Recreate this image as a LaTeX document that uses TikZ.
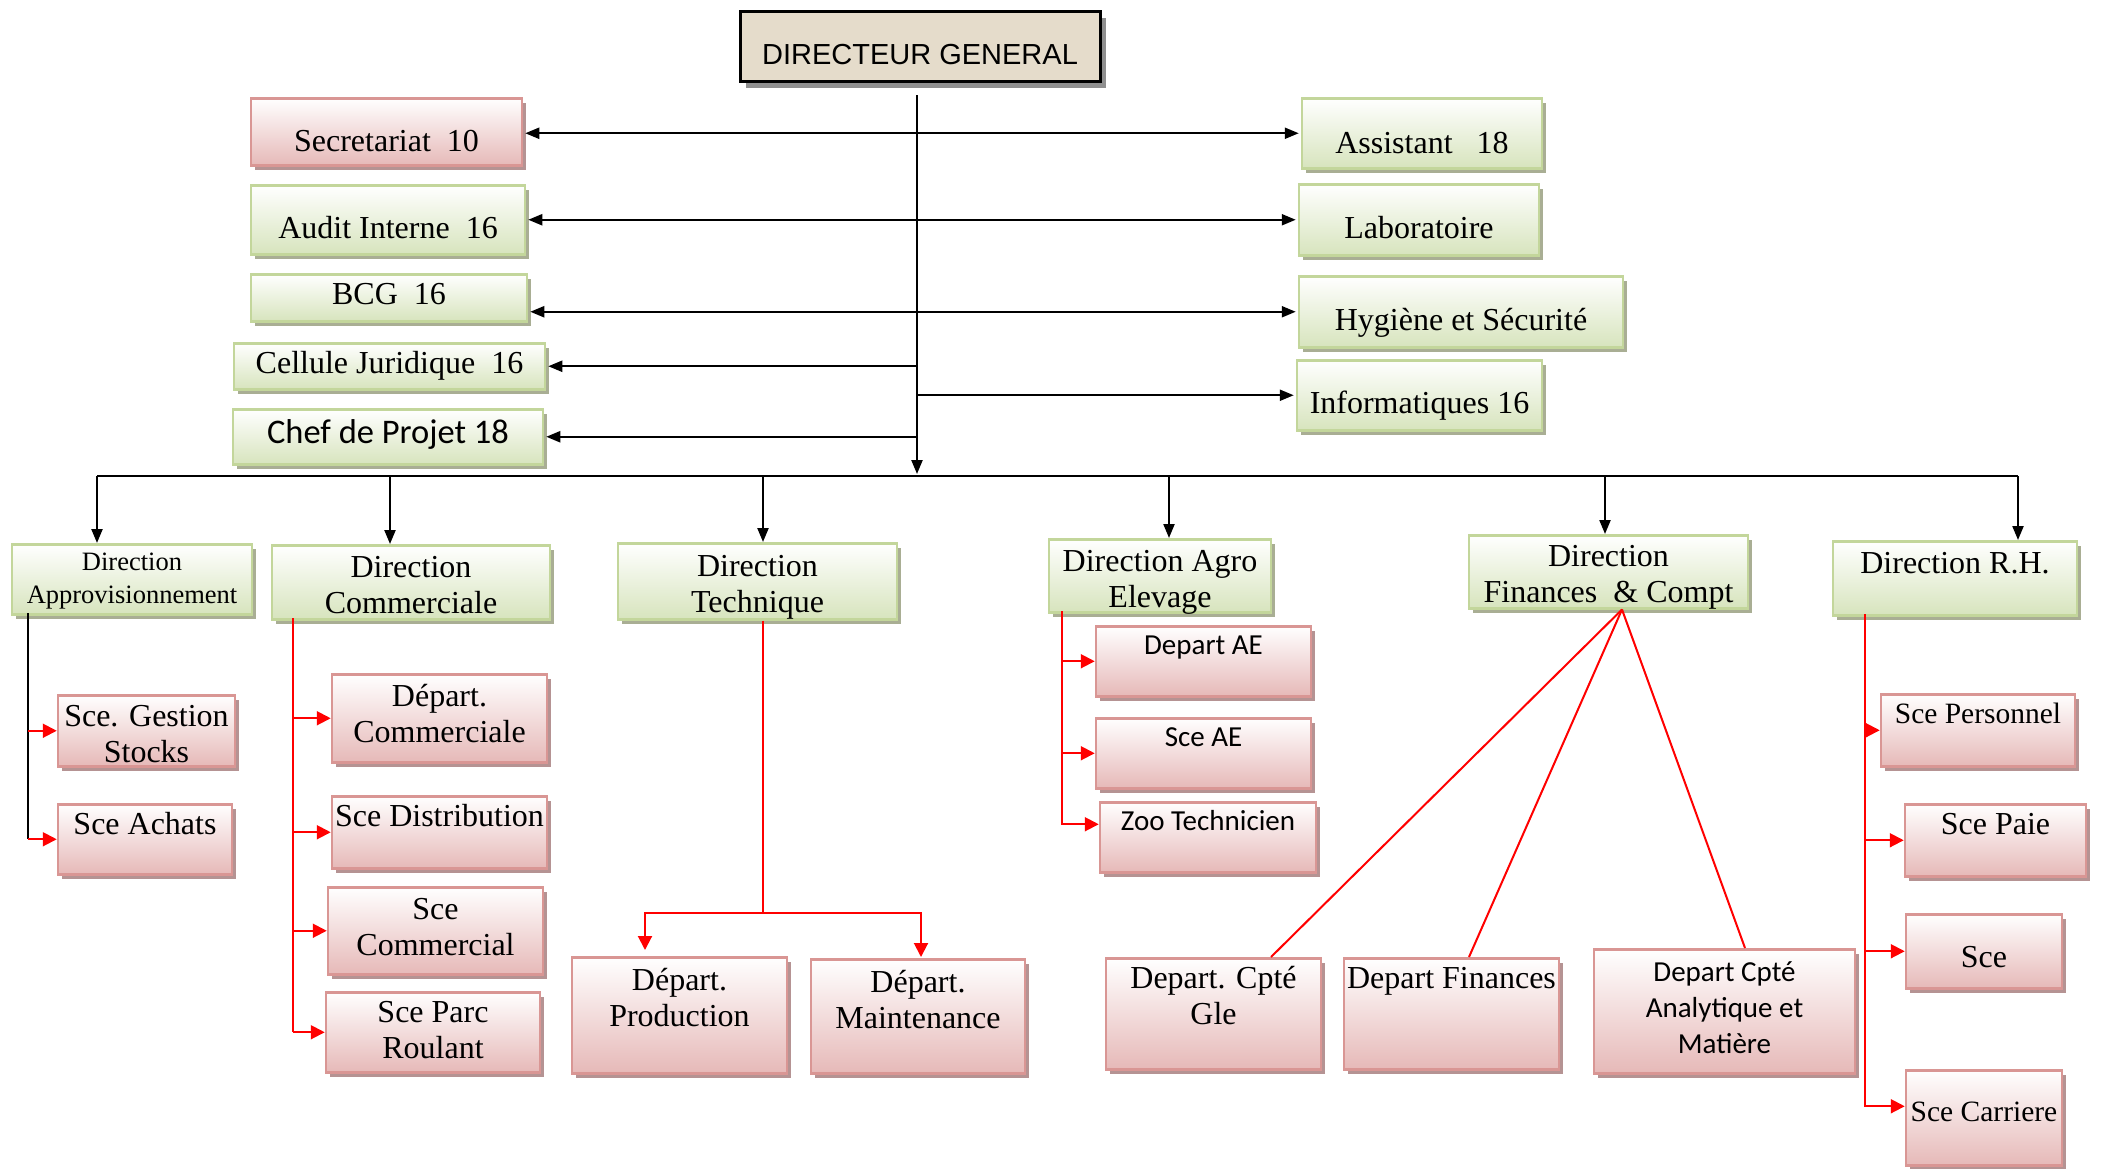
\documentclass[tikz,border=0pt]{standalone}
\usepackage{fontspec}
\setmainfont{Liberation Serif}
\newfontfamily\calib{Carlito}
\newfontfamily\arialf{Liberation Sans}
\usetikzlibrary{arrows.meta,shadows}

\definecolor{gBorder}{HTML}{C3D69B}
\definecolor{gBottom}{HTML}{D7E4BD}
\definecolor{gShadow}{HTML}{A9AE94}
\definecolor{pBorder}{HTML}{D99694}
\definecolor{pBottom}{HTML}{E6B9B8}
\definecolor{pShadow}{HTML}{B59393}
\definecolor{dgFill}{HTML}{E5DCCB}
\definecolor{dgShadow}{HTML}{8F8F8F}

\tikzset{
  box/.style={draw, line width=2.5pt, inner xsep=2pt, inner ysep=0pt, anchor=north,
    align=center, font=\fontsize{32}{36}\selectfont},
  dims/.style n args={3}{minimum width=#1pt, text height=#2pt, text depth=#3pt},
  gbox/.style={box, draw=gBorder, top color=white, bottom color=gBottom,
    drop shadow={shadow xshift=4pt, shadow yshift=-5pt, opacity=1, fill=gShadow}},
  pbox/.style={box, draw=pBorder, top color=white, bottom color=pBottom,
    drop shadow={shadow xshift=4pt, shadow yshift=-5pt, opacity=1, fill=pShadow}},
  dgbox/.style={box, draw=black, line width=3pt, fill=dgFill,
    font=\arialf\fontsize{29}{34}\selectfont,
    drop shadow={shadow xshift=6pt, shadow yshift=-6pt, opacity=1, fill=dgShadow}},
  calibbig/.style={font=\calib\fontsize{34.5}{38}\selectfont},
  calibsmall/.style={font=\calib\fontsize{29}{36}\selectfont},
  blk/.style={line width=2.2pt},
  blkarr/.style={blk, -{Triangle[length=14pt,width=11pt]}, shorten >=2pt},
  dblarr/.style={blk, {Triangle[length=14pt,width=11pt]}-{Triangle[length=14pt,width=11pt]},
    shorten >=2pt, shorten <=2pt},
  redln/.style={red, line width=2pt},
  redarr/.style={redln, -{Triangle[length=14pt,width=14pt]}}
}

\begin{document}
\begin{tikzpicture}[x=1pt,y=-1pt]
  \useasboundingbox (0,0) rectangle (2102,1168);

  % --- Direction generale and staff services ---
  \node[dgbox, dims={360}{53}{17}] (dg) at (920,10) {DIRECTEUR GENERAL};

  \node[pbox, dims={271}{53}{14}] (secr) at (386.5,97) {Secretariat~~10};
  \node[gbox, dims={274}{53}{16}] (audit) at (388,184) {Audit Interne~~16};
  \node[gbox, dims={276}{30}{17}] (bcg) at (389,273) {BCG~~16};
  \node[gbox, dims={311}{30}{16}] (cell) at (389.5,342) {Cellule Juridique~~16};
  \node[gbox, calibbig, dims={310}{34}{21}] (chef) at (388,408) {Chef de Projet 18};

  \node[gbox, dims={240}{55}{15}] (assist) at (1422,97) {Assistant~~~18};
  \node[gbox, dims={240}{54}{17}] (labo) at (1419,183) {Laboratoire};
  \node[gbox, dims={324}{54}{17}] (hyg) at (1461,275) {Hygiène et Sécurité};
  \node[gbox, dims={245}{53}{17}] (info) at (1419.5,359) {Informatiques 16};

  % --- trunk and staff arrows ---
  \coordinate (trTop) at (917,95);
  \coordinate (barL) at (97,476);
  \coordinate (barR) at (2018,476);
  \draw[blkarr] (trTop) -- (trTop |- barL);
  \draw[dblarr] (secr.east |- assist.west) -- (assist.west);
  \draw[dblarr] (audit.east |- labo.west) -- (labo.west);
  \draw[dblarr] (bcg.east |- hyg.west) -- (hyg.west);
  \draw[blkarr] (trTop |- cell.east) -- (cell.east);
  \draw[blkarr] (trTop |- info.west) -- (info.west);
  \draw[blkarr] (trTop |- chef.east) -- (chef.east);

  % --- directions ---
  \node[gbox, font=\fontsize{26.5}{33}\selectfont, dims={240}{59}{11}] (appro) at (132,543)
    {Direction\\Approvisionnement};
  \node[gbox, dims={278}{68}{6}] (comm) at (411,544) {Direction\\Commerciale};
  \node[gbox, dims={279}{69}{7}] (tech) at (757.5,542) {Direction\\Technique};
  \node[gbox, dims={222}{68}{5}] (agro) at (1160,538) {Direction Agro\\Elevage};
  \node[gbox, dims={279}{67}{6}] (fin) at (1608.5,534) {Direction\\Finances~~\& Compt};
  \node[gbox, dims={244}{32}{42}] (rh) at (1955,540) {Direction R.H.};

  \draw[blk, line width=2.6pt] (barL) -- (barR);
  \foreach \d/\s in {appro/-35, comm/-21, tech/5.5, agro/9, fin/-3.5, rh/63} {
    \draw[blkarr, shorten >=0pt] ([xshift=\s pt]\d.north |- barL) -- ([xshift=\s pt]\d.north);
  }

  % --- Approvisionnement ---
  \node[pbox, dims={177}{67}{4}] (stocks) at (146.5,694) {Sce. Gestion\\Stocks};
  \node[pbox, dims={174}{30}{40}] (achats) at (145,803) {Sce Achats};
  \coordinate (apS) at (28,613);
  \draw[blk, line width=1.8pt] (apS) -- (apS |- achats.west);
  \foreach \b in {stocks,achats} {
    \draw[redarr] (apS |- \b.west) -- (\b.west);
  }

  % --- Commerciale ---
  \node[pbox, dims={215}{68}{20}] (depCom) at (439.5,673) {Départ.\\Commerciale};
  \node[pbox, dims={215}{30}{42}] (dist) at (439.5,795) {Sce Distribution};
  \node[pbox, dims={215}{68}{19}] (sceCom) at (435.5,886) {Sce\\Commercial};
  \node[pbox, dims={214}{66}{14}] (parc) at (433,991) {Sce Parc\\Roulant};
  \coordinate (cmS) at (293,618);
  \draw[redln] (cmS) -- (cmS |- parc.west);
  \foreach \b in {depCom,dist,sceCom,parc} {
    \draw[redarr] (cmS |- \b.west) -- (\b.west);
  }

  % --- Technique ---
  \node[pbox, dims={215}{69}{47}] (prod) at (679.5,956) {Départ.\\Production};
  \node[pbox, dims={214}{69}{45}] (maint) at (918,958) {Départ.\\Maintenance};
  \coordinate (tj) at (763,913);
  \draw[redln] (tj |- tech.south) -- (tj);
  \draw[redarr, shorten >=6pt] (tj) -| ([xshift=-34.5pt]prod.north);
  \draw[redarr, shorten >=1pt] (tj) -| ([xshift=3pt]maint.north);

  % --- Agro Elevage ---
  \node[pbox, calibsmall, dims={215}{28}{42}] (depAE) at (1203.5,625) {Depart AE};
  \node[pbox, calibsmall, dims={215}{28}{42}] (sceAE) at (1203.5,717) {Sce AE};
  \node[pbox, calibsmall, dims={216}{28}{42}] (zoo) at (1208,801) {Zoo Technicien};
  \coordinate (agS) at (1062,611);
  \draw[redarr] (agS) |- ([yshift=13pt]zoo.west);
  \foreach \b in {depAE,sceAE} {
    \draw[redarr] (agS |- \b.west) -- (\b.west);
  }

  % --- Finances et Comptabilite ---
  \node[pbox, dims={215}{66}{45}] (gle) at (1213.5,957) {Depart. Cpté\\Gle};
  \node[pbox, dims={215}{30}{81}] (dfin) at (1451.5,957) {Depart Finances};
  \node[pbox, calibsmall, dims={261}{104}{20}] (anal) at (1724.5,948)
    {Depart Cpté\\Analytique et\\Matière};
  \coordinate (fnP) at ([xshift=13.5pt]fin.south);
  \draw[redln] (fnP) -- ([xshift=57.5pt]gle.north);
  \draw[redln] (fnP) -- ([xshift=17.5pt]dfin.north);
  \draw[redln] (fnP) -- ([xshift=20.5pt]anal.north);

  % --- Ressources humaines ---
  \node[pbox, font=\fontsize{29.5}{36}\selectfont, dims={194}{29}{43}] (pers) at (1978,693) {Sce Personnel};
  \node[pbox, dims={181}{30}{42}] (paie) at (1995.5,803) {Sce Paie};
  \node[pbox, dims={156}{53}{21}] (sce) at (1984,913) {Sce};
  \node[pbox, font=\fontsize{29.5}{36}\selectfont, dims={156}{51}{44}] (carr) at (1984,1069) {Sce Carriere};
  \coordinate (rhS) at (1865,614);
  \draw[redarr] (rhS) |- ([yshift=11.5pt]carr.west);
  \foreach \b in {pers,paie,sce} {
    \draw[redarr] (rhS |- \b.west) -- (\b.west);
  }
\end{tikzpicture}
\end{document}
